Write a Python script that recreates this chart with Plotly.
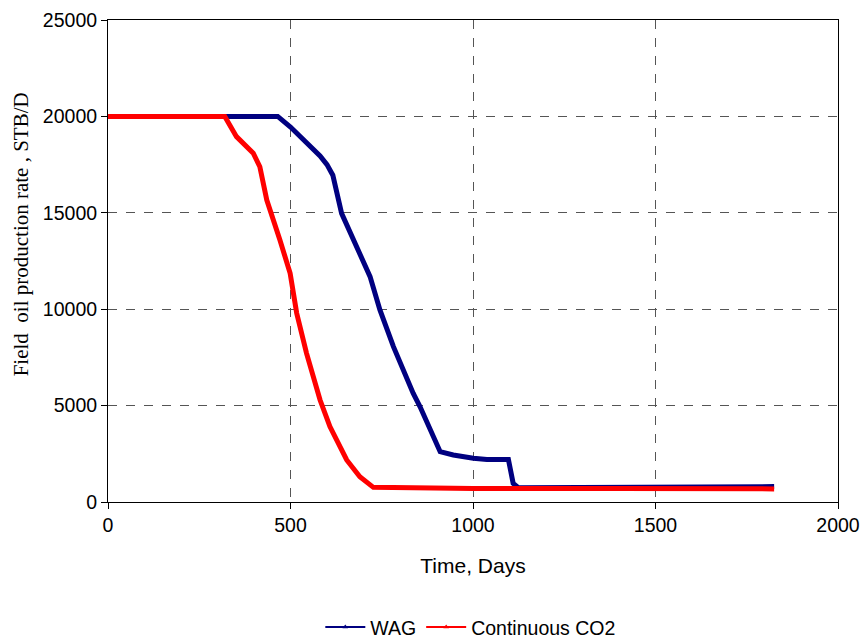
import plotly.graph_objects as go

wag_days = [0, 465, 500, 540, 581, 600, 616, 640, 690, 718, 745, 782, 836, 855, 910, 946, 1001, 1038, 1097, 1110, 1124, 1400, 1680, 1825]
wag_rate = [20000, 20000, 19450, 18700, 17950, 17500, 16950, 14970, 12900, 11690, 9960, 8060, 5640, 4940, 2610, 2440, 2270, 2200, 2200, 970, 740, 740, 780, 800]

co2_days = [0, 320, 352, 398, 416, 435, 471, 499, 517, 544, 581, 608, 654, 690, 727, 1000, 1400, 1825]
co2_rate = [20000, 20000, 18950, 18090, 17390, 15660, 13590, 11860, 9790, 7710, 5290, 3910, 2180, 1310, 760, 700, 700, 680]

x_ticks = [0, 500, 1000, 1500, 2000]
y_ticks = [0, 5000, 10000, 15000, 20000, 25000]

BLUE = "#000080"
RED = "#FF0000"

fig = go.Figure()
fig.add_trace(go.Scatter(x=wag_days, y=wag_rate, mode="lines", line=dict(color=BLUE, width=5),
                         showlegend=False, hoverinfo="skip"))
fig.add_trace(go.Scatter(x=co2_days, y=co2_rate, mode="lines", line=dict(color=RED, width=5),
                         showlegend=False, hoverinfo="skip"))
fig.add_trace(go.Scatter(x=[None], y=[None], mode="lines+markers", name="WAG",
                         line=dict(color=BLUE, width=2), marker=dict(symbol="triangle-up", size=5, color=BLUE)))
fig.add_trace(go.Scatter(x=[None], y=[None], mode="lines+markers", name="Continuous CO2",
                         line=dict(color=RED, width=2), marker=dict(symbol="triangle-up", size=5, color=RED)))

fig.update_layout(
    width=866, height=638,
    margin=dict(l=108, r=28, t=20, b=136, autoexpand=False),
    paper_bgcolor="white", plot_bgcolor="white",
    font=dict(family="Liberation Sans, Arial, sans-serif", size=19.5, color="black"),
    legend=dict(orientation="h", x=0.497, xanchor="center", y=-0.26, yanchor="middle",
                font=dict(size=19.5), itemwidth=40, tracegroupgap=0),
    annotations=[dict(text="Field  oil production rate , STB/D", textangle=-90,
                      xref="paper", yref="paper", x=-0.118, y=0.555,
                      xanchor="center", yanchor="middle", showarrow=False,
                      font=dict(family="Liberation Serif, Times New Roman, serif", size=21))],
)
fig.update_xaxes(
    range=[0, 2000], tickvals=x_ticks, ticktext=[str(v) for v in x_ticks],
    showgrid=True, gridcolor="#555", griddash="dash", gridwidth=1,
    showline=True, linecolor="black", linewidth=1, mirror=True, ticks="outside", ticklen=6,
    tickcolor="black", zeroline=False,
    title=dict(text="Time, Days", font=dict(size=21), standoff=22),
)
fig.update_yaxes(
    range=[0, 25000], tickvals=y_ticks, ticktext=[str(v) for v in y_ticks],
    showgrid=True, gridcolor="#555", griddash="dash", gridwidth=1,
    showline=True, linecolor="black", linewidth=1, mirror=True, ticks="outside", ticklen=6,
    tickcolor="black", zeroline=False,
)

fig.write_html("out.html")
